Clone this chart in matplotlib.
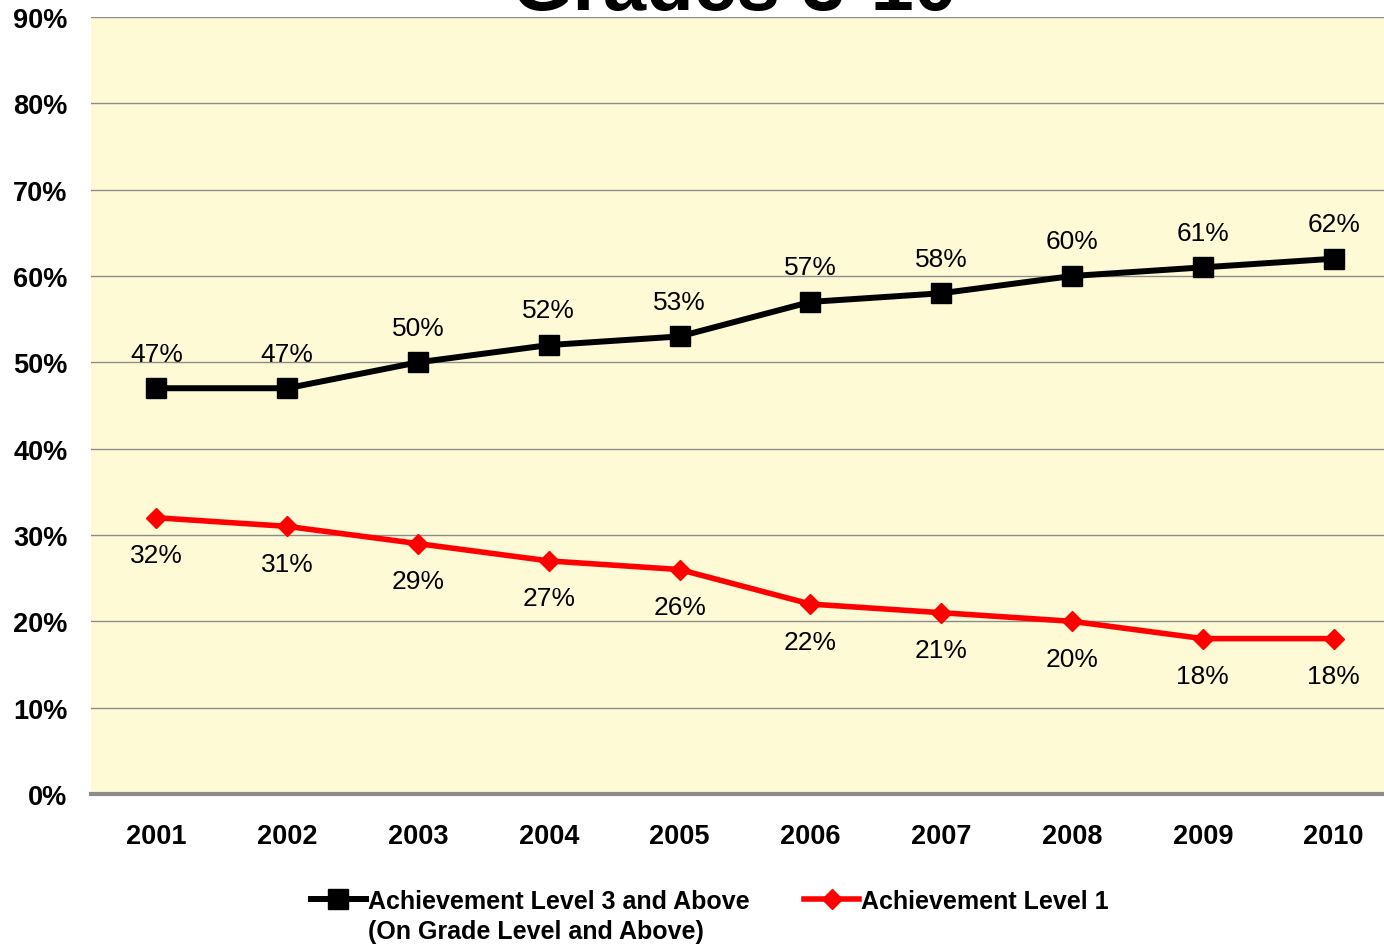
import matplotlib
matplotlib.use("Agg")
import matplotlib.pyplot as plt

years = ["2001", "2002", "2003", "2004", "2005", "2006", "2007", "2008", "2009", "2010"]
level3_above = [47, 47, 50, 52, 53, 57, 58, 60, 61, 62]
level1 = [32, 31, 29, 27, 26, 22, 21, 20, 18, 18]
y_ticks = [0, 10, 20, 30, 40, 50, 60, 70, 80, 90]
title = "Grades 3-10"
series_names = ["Achievement Level 3 and Above", "Achievement Level 1"]
series1_subtitle = "(On Grade Level and Above)"

plt.rcParams['font.family'] = ['Liberation Sans', 'DejaVu Sans']

W, H = 1384, 945
fig = plt.figure(figsize=(W / 100, H / 100), dpi=100)
left, right, top, bottom = 91, 1399, 18, 795
ax = fig.add_axes([left / W, 1 - bottom / H, (right - left) / W, (bottom - top) / H])
ax.set_facecolor('#FEFAD6')

x = list(range(len(years)))
ax.set_xlim(-0.5, len(years) - 0.5)
ax.set_ylim(0, 90)

ax.set_yticks(y_ticks)
ax.set_yticklabels([f"{v}%" for v in y_ticks], fontsize=19.5, fontweight='bold')
ax.set_xticks(x)
ax.set_xticklabels(years, fontsize=19.5, fontweight='bold')
ax.tick_params(axis='both', length=0)
ax.tick_params(axis='y', pad=17)
ax.tick_params(axis='x', pad=21)

for v in y_ticks[1:]:
    ax.axhline(v, color='#8C8C8C', lw=1.0, zorder=1)

for s in ['left', 'right', 'top']:
    ax.spines[s].set_visible(False)
ax.spines['bottom'].set_color('#8C8C8C')
ax.spines['bottom'].set_linewidth(3)

l1, = ax.plot(x, level3_above, color='black', lw=4.3, marker='s', markersize=14.5,
              label=series_names[0], zorder=3, clip_on=False)
l2, = ax.plot(x, level1, color='#FF0000', lw=4, marker='D', markersize=10,
              label=series_names[1], zorder=3, clip_on=False)

for xi, v in zip(x, level3_above):
    ax.annotate(f"{v}%", (xi, v), xytext=(0, 25), textcoords='offset points',
                ha='center', va='center', fontsize=19, color='black')
for xi, v in zip(x, level1):
    ax.annotate(f"{v}%", (xi, v), xytext=(0, -27), textcoords='offset points',
                ha='center', va='center', fontsize=19, color='black')

fig.text(0.531, 1 - 10 / H, title, ha='center', va='baseline', fontsize=56, fontweight='bold')

leg = fig.legend(handles=[l1, l2], loc='center', bbox_to_anchor=(710 / W, 1 - 902 / H),
                 ncol=2, frameon=False, handlelength=2.2, handletextpad=0.08,
                 columnspacing=2.2, borderpad=0, prop={'weight': 'bold', 'size': 18})

fig.canvas.draw()
bb = leg.get_texts()[0].get_window_extent()
fig.text(bb.x0 / W, (bb.y0 - 30) / H, series1_subtitle, ha='left', va='bottom',
         fontsize=18, fontweight='bold')

fig.savefig('out.png', dpi=100)
